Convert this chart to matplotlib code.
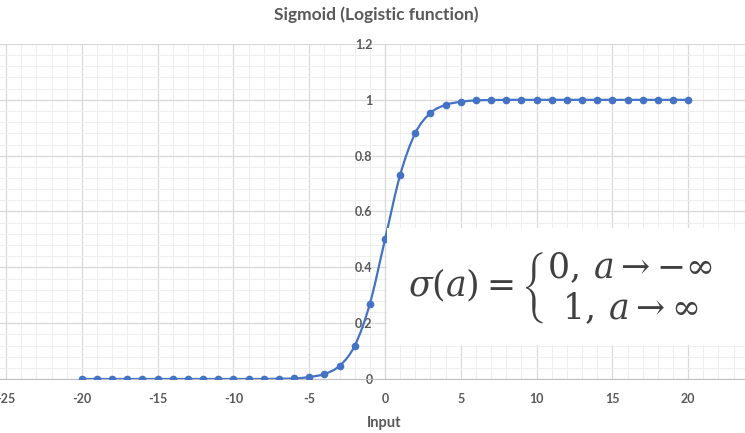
import matplotlib.pyplot as plt
from matplotlib.path import Path
from matplotlib.patches import PathPatch, Rectangle
from matplotlib.ticker import MultipleLocator, FormatStrFormatter
import numpy as np

#data: logistic function sampled at integer inputs
inputs = list(range(-20, 21))
outputs = [0.000, 0.000, 0.000, 0.000, 0.000, 0.000, 0.000, 0.000, 0.000, 0.000,
           0.000, 0.000, 0.000, 0.001, 0.002, 0.007, 0.018, 0.047, 0.119, 0.269,
           0.500, 0.731, 0.881, 0.953, 0.982, 0.993, 0.998, 0.999, 1.000, 1.000,
           1.000, 1.000, 1.000, 1.000, 1.000, 1.000, 1.000, 1.000, 1.000, 1.000,
           1.000]

blue = '#4472C4'
grey_txt = '#595959'

plt.rcParams['font.family'] = ['Lato', 'DejaVu Sans']
plt.rcParams['mathtext.fontset'] = 'dejavuserif'

fig = plt.figure(figsize=(7.45, 4.33), dpi=100)
ax0 = fig.add_axes([0.0, 54/433, 1.0, 335/433])

#smoothed line (catmull-rom -> cubic bezier) like excel's "smoothed line"
pts = np.column_stack([inputs, outputs])
verts = [pts[0]]
codes = [Path.MOVETO]
for i in range(len(pts) - 1):
    p0 = pts[max(i - 1, 0)]
    p1 = pts[i]
    p2 = pts[i + 1]
    p3 = pts[min(i + 2, len(pts) - 1)]
    verts += [p1 + (p2 - p0) / 6, p2 - (p3 - p1) / 6, p2]
    codes += [Path.CURVE4] * 3
ax0.add_patch(PathPatch(Path(verts, codes), fill=False, edgecolor=blue, linewidth=1.6, zorder=3))
ax0.plot(inputs, outputs, 'o', color=blue, markersize=4.5, zorder=4)

#axes limits / ticks
ax0.set_xlim(-25.4, 23.75)
ax0.set_ylim(0, 1.2)
ax0.xaxis.set_major_locator(MultipleLocator(5))
ax0.xaxis.set_minor_locator(MultipleLocator(1))
ax0.yaxis.set_major_locator(MultipleLocator(0.2))
ax0.yaxis.set_minor_locator(MultipleLocator(0.04))
ax0.xaxis.set_major_formatter(FormatStrFormatter('%d'))
ax0.yaxis.set_major_formatter(plt.FuncFormatter(lambda v, p: ('%.1f' % v).rstrip('0').rstrip('.') if v else '0'))

ax0.grid(True, which='major', color='#d9d9d9', linewidth=0.9)
ax0.grid(True, which='minor', color='#eeeeee', linewidth=0.7)
ax0.set_axisbelow(True)

#y axis sits at x=0
ax0.spines['left'].set_position(('data', 0))
ax0.spines['left'].set_color('#d9d9d9')
ax0.spines['bottom'].set_color('#bfbfbf')
ax0.spines['right'].set_visible(False)
ax0.spines['top'].set_visible(False)
ax0.tick_params(which='both', length=0)
ax0.tick_params(axis='x', pad=10, labelsize=9, labelcolor=grey_txt)
ax0.tick_params(axis='y', pad=9, labelsize=9, labelcolor=grey_txt)
for lab in ax0.get_xticklabels() + ax0.get_yticklabels():
    lab.set_fontweight('bold')

fig.text(376/745, 1 - 15/433, 'Sigmoid (Logistic function)', ha='center', va='center',
         fontsize=12.5, fontweight='bold', color=grey_txt)
fig.text(384/745, 1 - 423/433, 'Input', ha='center', va='center',
         fontsize=10.5, fontweight='bold', color=grey_txt)

#formula box
fig.patches.append(Rectangle((387/745, 1 - 345/433), 1.0, 117/433, transform=fig.transFigure,
                             facecolor='white', edgecolor='none', zorder=5))
fig.text(408/745, 1 - 288/433,
         r'$\sigma(a) = \left\{\genfrac{}{}{0}{0}{0,\, a \rightarrow {-\infty}}{1,\, a \rightarrow \infty}\right.$',
         ha='left', va='center', fontsize=25, color='#404040', zorder=6)

plt.savefig('out.png', dpi=100)
